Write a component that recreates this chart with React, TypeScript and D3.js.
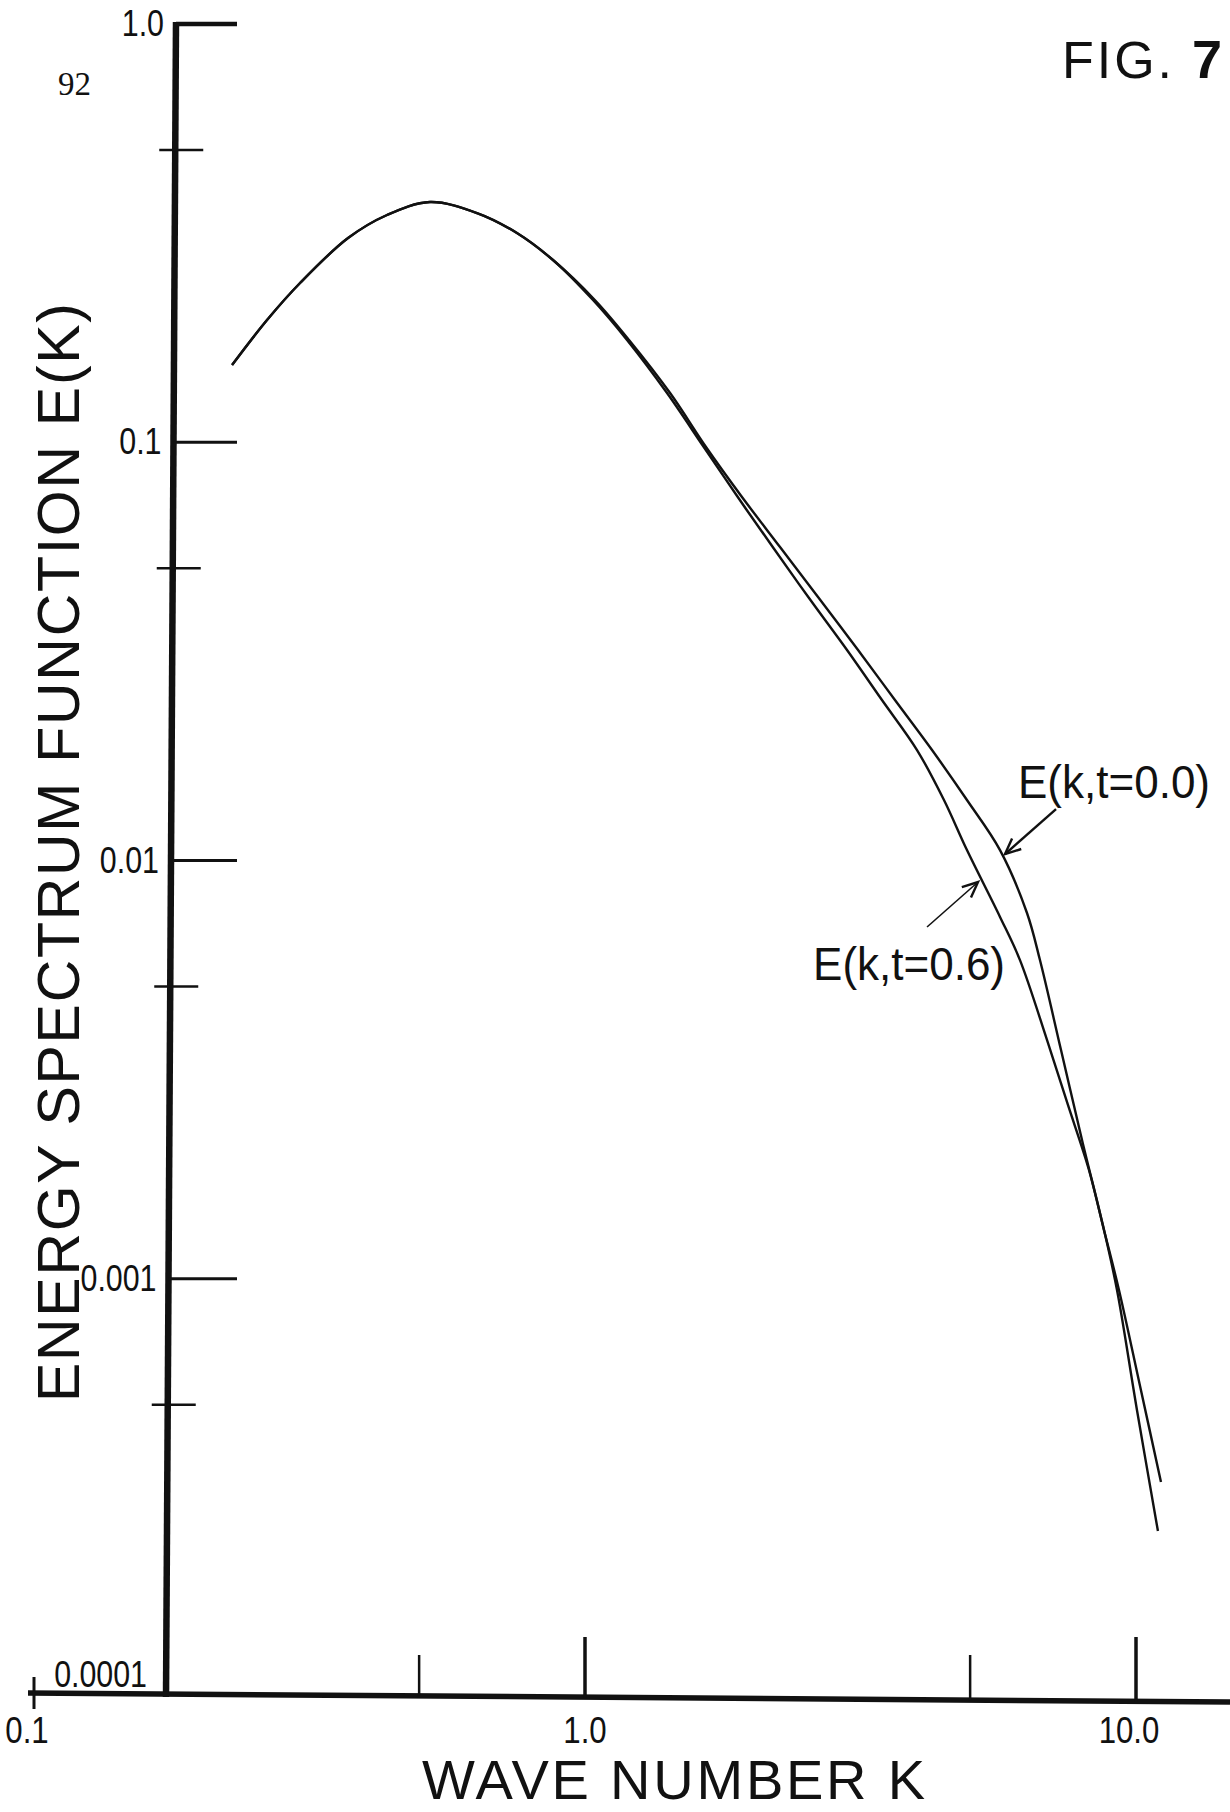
import React, { useEffect, useRef } from 'react';
import * as d3 from 'd3';

const WIDTH = 1230;
const HEIGHT = 1812;

// E(k, t=0.0)
const kT00 = [
  0.2288, 0.2648, 0.304, 0.3715, 0.4372, 0.5232, 0.6368, 0.7524, 0.8748, 1.042, 1.202, 1.427,
  1.658, 1.927, 2.259, 2.648, 3.13, 3.652, 4.264, 4.934, 5.665, 6.341, 6.694, 7.31, 7.98,
  8.748, 9.237, 10.04, 10.96,
];
const eT00 = [
  0.153, 0.196, 0.2403, 0.3078, 0.3494, 0.3753, 0.3532, 0.3164, 0.2727, 0.2188, 0.1756, 0.1311,
  0.09741, 0.07397, 0.05617, 0.04266, 0.03186, 0.02419, 0.01837, 0.01395, 0.01059, 0.00749,
  0.00578, 0.003522, 0.002147, 0.001308, 0.00094, 0.0004856, 0.0002493,
];

// E(k, t=0.6)
const kT06 = [
  0.2288, 0.2648, 0.304, 0.3715, 0.4372, 0.5232, 0.6368, 0.7524, 0.8748, 1.034, 1.192, 1.409,
  1.638, 1.888, 2.185, 2.55, 2.989, 3.459, 4.005, 4.482, 4.934, 5.665, 6.158, 6.896, 7.525,
  8.216, 8.748, 9.313, 10.17, 11.1,
];
const eT06 = [
  0.153, 0.196, 0.2403, 0.3078, 0.3494, 0.3753, 0.3532, 0.3164, 0.2727, 0.2188, 0.1756, 0.1311,
  0.09795, 0.07438, 0.05648, 0.04241, 0.03186, 0.02419, 0.01837, 0.01395, 0.01059, 0.00733,
  0.00578, 0.00372, 0.002603, 0.00182, 0.001308, 0.00094, 0.000554, 0.0003266,
];

const yMajorTicks = [1, 0.1, 0.01, 0.001, 0.0001];
const yMajorLabels = ['1.0', '0.1', '0.01', '0.001', '0.0001'];
const yMinorTicks = [0.5, 0.05, 0.005, 0.0005];
const xMajorTicks = [0.1, 1, 10];
const xMajorLabels = ['0.1', '1.0', '10.0'];
const xMinorTicks = [0.5, 5];

// arrow tips sit on the curves
const curveLabels = ['E(k,t=0.0)', 'E(k,t=0.6)'];
const arrowTipK = [5.785, 5.168];
const arrowTipE = [0.01036, 0.008884];

const SANS = "'Liberation Sans', Arial, sans-serif";

// narrow stencil lettering: squeeze the glyphs to the widths seen in the scan
const labelWidth = (s: string, size: number) => {
  let w = 0;
  for (const ch of s) w += ch === '.' || ch === ',' ? 0.23 : 0.456;
  return w * size;
};

const EnergySpectrum: React.FC = () => {
  const svgRef = useRef<SVGSVGElement>(null);

  useEffect(() => {
    if (!svgRef.current) return;
    const svg = d3.select(svgRef.current);
    svg.selectAll('*').remove();

    svg.append('rect').attr('width', WIDTH).attr('height', HEIGHT).attr('fill', '#ffffff');

    const x = d3.scaleLog().domain([0.1, 10]).range([34, 1136]);
    const y = d3.scaleLog().domain([1e-4, 1]).range([1697, 24]);

    // hand drawn axes are a little slanted
    const axisX = d3.scaleLinear().domain([y(1), y(1e-4)]).range([176, 166]);
    const axisY = d3.scaleLinear().domain([28, WIDTH]).range([1693, 1702]);

    const g = svg.append('g').attr('stroke', '#111').attr('fill', 'none');

    // y axis
    g.append('line')
      .attr('x1', axisX(y(1)))
      .attr('y1', y(1) - 2)
      .attr('x2', axisX(y(1e-4)))
      .attr('y2', y(1e-4))
      .attr('stroke-width', 6.5);

    yMajorTicks.forEach((v, i) => {
      if (v === 1e-4) return;
      const py = y(v);
      g.append('line')
        .attr('x1', axisX(py))
        .attr('x2', 237)
        .attr('y1', py)
        .attr('y2', py)
        .attr('stroke-width', i === 0 ? 4.5 : 3);
    });

    yMinorTicks.forEach((v) => {
      const py = y(v);
      g.append('line')
        .attr('x1', axisX(py) - 16)
        .attr('x2', axisX(py) + 28)
        .attr('y1', py)
        .attr('y2', py)
        .attr('stroke-width', 2.5);
    });

    // x axis
    g.append('line')
      .attr('x1', 28)
      .attr('y1', axisY(28))
      .attr('x2', WIDTH)
      .attr('y2', axisY(WIDTH))
      .attr('stroke-width', 5.5);

    xMajorTicks.forEach((v) => {
      const px = x(v);
      g.append('line')
        .attr('x1', px)
        .attr('x2', px)
        .attr('y1', v === 0.1 ? 1677 : 1637)
        .attr('y2', v === 0.1 ? 1709 : axisY(px))
        .attr('stroke-width', v === 0.1 ? 3 : 3.5);
    });

    xMinorTicks.forEach((v) => {
      const px = x(v);
      g.append('line')
        .attr('x1', px)
        .attr('x2', px)
        .attr('y1', 1655)
        .attr('y2', axisY(px))
        .attr('stroke-width', 2.5);
    });

    // tick labels
    const labels = svg.append('g').attr('fill', '#111').attr('font-family', SANS);

    yMajorTicks.forEach((v, i) => {
      const py = y(v);
      const last = v === 1e-4;
      labels
        .append('text')
        .attr('x', last ? 147 : axisX(py) - 12)
        .attr('y', last ? py - 10 : py + 12)
        .attr('text-anchor', 'end')
        .attr('font-size', 36)
        .attr('textLength', labelWidth(yMajorLabels[i], 37))
        .attr('lengthAdjust', 'spacingAndGlyphs')
        .text(yMajorLabels[i]);
    });

    xMajorTicks.forEach((v, i) => {
      labels
        .append('text')
        .attr('x', x(v) - (v === 1 ? 0 : 7))
        .attr('y', 1743)
        .attr('text-anchor', 'middle')
        .attr('font-size', 36)
        .attr('textLength', labelWidth(xMajorLabels[i], 38))
        .attr('lengthAdjust', 'spacingAndGlyphs')
        .text(xMajorLabels[i]);
    });

    // axis titles
    labels
      .append('text')
      .attr('x', 422)
      .attr('y', 1799)
      .attr('font-size', 56)
      .attr('textLength', 503)
      .attr('lengthAdjust', 'spacing')
      .text('WAVE NUMBER K');

    labels
      .append('text')
      .attr('transform', 'translate(79,1402) rotate(-90)')
      .attr('x', 0)
      .attr('y', 0)
      .attr('font-size', 59)
      .attr('textLength', 1099)
      .attr('lengthAdjust', 'spacing')
      .text('ENERGY SPECTRUM FUNCTION E(K)');

    // figure number and page number
    labels
      .append('text')
      .attr('x', 1062)
      .attr('y', 78)
      .attr('font-size', 52)
      .attr('textLength', 110)
      .attr('lengthAdjust', 'spacing')
      .text('FIG.');
    labels
      .append('text')
      .attr('x', 1192)
      .attr('y', 78)
      .attr('font-size', 54)
      .attr('font-weight', 'bold')
      .text('7');
    labels
      .append('text')
      .attr('x', 58)
      .attr('y', 95)
      .attr('font-size', 33)
      .attr('font-family', "'Liberation Serif', serif")
      .text('92');

    // spectra
    const line = d3
      .line<[number, number]>()
      .x((d) => x(d[0]))
      .y((d) => y(d[1]))
      .curve(d3.curveCatmullRom.alpha(0.5));

    const series: [number, number][][] = [
      kT00.map((k, i) => [k, eT00[i]]),
      kT06.map((k, i) => [k, eT06[i]]),
    ];

    series.forEach((s) => {
      g.append('path').attr('d', line(s)).attr('stroke-width', 2.4).attr('stroke-linejoin', 'round');
    });

    // annotation arrows + labels
    const tailOffset = [
      [51, -45],
      [-51, 45],
    ];
    const labelOffset = [
      [13, -56],
      [-165, 98],
    ];
    curveLabels.forEach((lab, i) => {
      const tx = x(arrowTipK[i]);
      const ty = y(arrowTipE[i]);
      const sx = tx + tailOffset[i][0];
      const sy = ty + tailOffset[i][1];
      g.append('line')
        .attr('x1', sx)
        .attr('y1', sy)
        .attr('x2', tx)
        .attr('y2', ty)
        .attr('stroke-width', i === 0 ? 2.4 : 1.6);
      const ang = Math.atan2(sy - ty, sx - tx);
      const len = 17;
      const spread = 0.42;
      g.append('path')
        .attr(
          'd',
          `M${tx + len * Math.cos(ang + spread)},${ty + len * Math.sin(ang + spread)}L${tx},${ty}L${
            tx + len * Math.cos(ang - spread)
          },${ty + len * Math.sin(ang - spread)}`
        )
        .attr('stroke-width', 2.4);

      labels
        .append('text')
        .attr('x', tx + labelOffset[i][0])
        .attr('y', ty + labelOffset[i][1])
        .attr('font-size', 47)
        .attr('textLength', 192)
        .attr('lengthAdjust', 'spacingAndGlyphs')
        .text(lab);
    });
  }, []);

  return (
    <svg
      ref={svgRef}
      width={WIDTH}
      height={HEIGHT}
      style={{ position: 'absolute', left: 0, top: 0, display: 'block' }}
    />
  );
};

export default function App() {
  return <EnergySpectrum />;
}
